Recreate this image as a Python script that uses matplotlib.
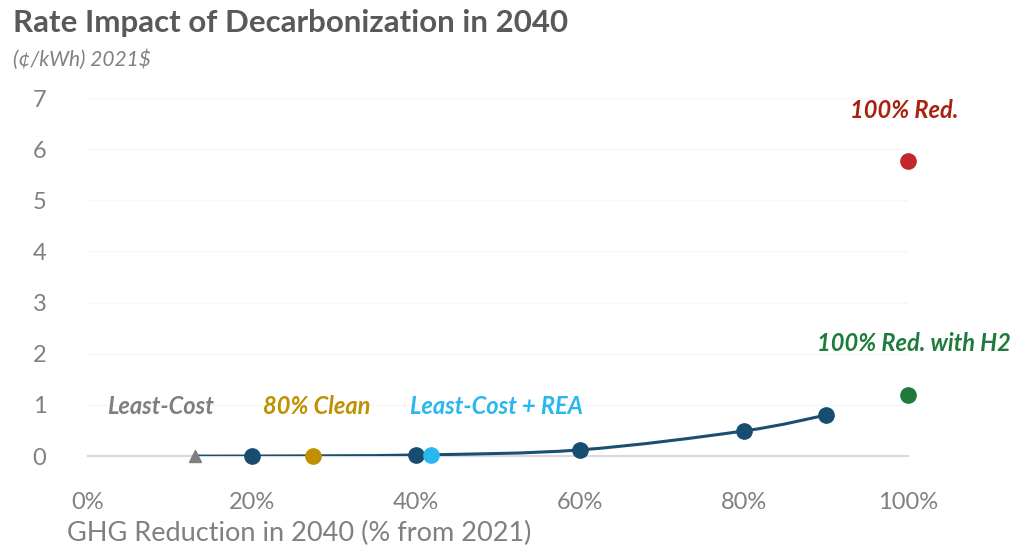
import numpy as np
import matplotlib.pyplot as plt
from matplotlib.path import Path
from matplotlib.patches import PathPatch

plt.rcParams['font.family'] = ['Lato', 'DejaVu Sans']

# decarbonization path (x = % GHG reduction, y = rate impact in c/kWh)
path_x = [13, 20, 40, 60, 80, 90]
path_y = [0.0, 0.0, 0.02, 0.12, 0.49, 0.80]
dot_x = [20, 40, 60, 80, 90]
dot_y = [0.0, 0.02, 0.12, 0.49, 0.80]

# named scenarios
scen_names = ['Least-Cost', '80% Clean', 'Least-Cost + REA', '100% Red.', '100% Red. with H2']
scen_x = [13, 27.5, 41.8, 100, 100]
scen_y = [0.0, 0.0, 0.02, 5.77, 1.19]
scen_colors = ['#7f7f7f', '#bf9000', '#2ab7ef', '#a8220f', '#1e7b3c']

x_ticks = [0, 20, 40, 60, 80, 100]
y_ticks = [0, 1, 2, 3, 4, 5, 6, 7]

fig = plt.figure(figsize=(10.21, 5.46), dpi=100)
ax = fig.add_axes([0.0862, 0.1648, 0.803, 0.6557])
ax.set_xlim(0, 100)
ax.set_ylim(0, 7)

# smoothed line like excel (catmull-rom -> bezier)
pts = ax.transData.transform(np.column_stack([path_x, path_y]))
verts = [pts[0]]
codes = [Path.MOVETO]
for i in range(len(pts) - 1):
    p0 = pts[max(i - 1, 0)]
    p1 = pts[i]
    p2 = pts[i + 1]
    p3 = pts[min(i + 2, len(pts) - 1)]
    c1 = p1 + (p2 - p0) / 6
    c2 = p2 - (p3 - p1) / 6
    verts += [c1, c2, p2]
    codes += [Path.CURVE4] * 3
curve = PathPatch(Path(ax.transData.inverted().transform(verts), codes),
                  fill=False, edgecolor='#1b4f72', lw=2.2, zorder=3)
ax.add_patch(curve)

ax.plot(dot_x, dot_y, 'o', color='#164d70', ms=11, zorder=4, clip_on=False)
ax.plot(scen_x[0], scen_y[0], '^', color=scen_colors[0], ms=9, zorder=5, clip_on=False)
dot_cols = ['#bf9000', '#2ab7ef', '#c0282d', '#1e7b3c']
for i in range(1, 5):
    ax.plot(scen_x[i], scen_y[i], 'o', color=dot_cols[i - 1], ms=11, zorder=5, clip_on=False)

# scenario labels
lab_pos = [(8.9, 0.97), (27.9, 0.97), (49.8, 0.97), (99.5, 6.76), (100.7, 2.2)]
for name, c, (lx, ly) in zip(scen_names, scen_colors, lab_pos):
    ax.text(lx, ly, name, color=c, fontsize=17, fontweight='bold', style='italic',
            ha='center', va='center')

ax.set_xticks(x_ticks)
ax.set_xticklabels([f'{v}%' for v in x_ticks])
ax.set_yticks(y_ticks)
ax.tick_params(length=0, labelsize=17, labelcolor='#808080')
ax.tick_params(axis='x', pad=26)
ax.tick_params(axis='y', pad=30)
for s in ['top', 'right', 'left']:
    ax.spines[s].set_visible(False)
ax.spines['bottom'].set_color('#d9d9d9')
ax.spines['bottom'].set_linewidth(1.5)
ax.grid(axis='y', color='#f6f6f6', lw=1)
ax.set_axisbelow(True)

fig.text(0.013, 0.958, 'Rate Impact of Decarbonization in 2040', fontsize=22.5,
         fontweight='bold', color='#595959', va='center')
fig.text(0.013, 0.89, '(¢/kWh) 2021$', fontsize=15, style='italic',
         color='#808080', va='center')
fig.text(0.066, 0.023, 'GHG Reduction in 2040 (% from 2021)', fontsize=19.5,
         color='#808080', va='center')

fig.savefig('out.png', dpi=100)
